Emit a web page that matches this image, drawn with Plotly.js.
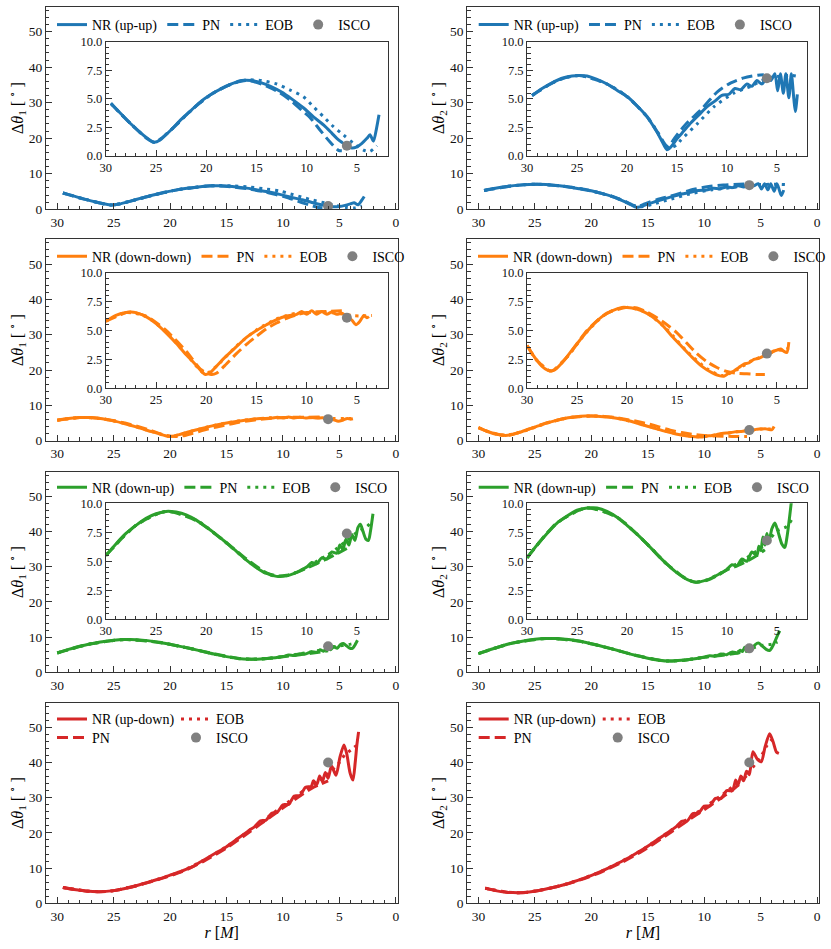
<!DOCTYPE html>
<html><head><meta charset="utf-8">
<script src="https://cdn.plot.ly/plotly-3.0.1.min.js"></script>
<style>html,body{margin:0;padding:0;background:#fff}#chart{width:831px;height:949px}</style>
</head><body><div id="chart"></div>
<script>
// ---------- DATA ----------
// Panel 1: up-up, Δθ1
const r_uu1_nr = [29.5,28.5,27.5,26.5,25.8,25.2,24.6,23.5,22.5,21.5,20.5,19.5,18.5,17.5,16.5,15.5,14.5,13.6,12.5,11.5,10.3,9.3,8.3,7.5,7.0,6.5,6.1,5.5,5.0,4.5,4.0,3.7,3.35,3.05,2.8];
const th_uu1_nr = [4.6,3.7,2.8,2.0,1.5,1.2,1.4,2.3,3.2,4.0,4.8,5.4,5.9,6.3,6.6,6.6,6.4,6.1,5.6,5.0,4.2,3.4,2.7,2.0,1.55,1.2,0.95,0.7,0.8,1.1,1.55,1.85,1.3,2.4,3.6];
const r_uu1_pn = [29.5,27.5,25.2,23.5,21.5,19.5,17.5,16.0,14.5,13.0,11.5,10.5,9.7,8.7,7.7,6.85,6.5];
const th_uu1_pn = [4.6,2.8,1.2,2.3,4.0,5.4,6.3,6.6,6.3,5.7,4.8,4.0,3.4,2.3,1.25,0.5,0.45];
const r_uu1_eob = [29.5,27.5,25.2,23.5,21.5,19.5,17.5,16.0,14.5,13.0,11.65,10.33,9.33,8.33,7.34,6.34,5.34,4.35,3.7,3.0];
const th_uu1_eob = [4.6,2.8,1.2,2.3,4.0,5.4,6.3,6.65,6.6,6.3,5.77,5.19,4.31,3.44,2.57,1.84,1.11,0.52,0.4,0.9];
// Panel 2: up-up, Δθ2
const r_uu2_nr = [29.5,28.5,27.5,26.5,25.5,24.8,24,23,22,21,20,19,18,17,16.5,16,15.6,15,14.3,13.6,12.8,12,11.2,10.5,9.8,9.2,8.6,8.0,7.5,7.0,6.5,6.0,5.6,5.2,4.92,4.65,4.35,4.1,3.8,3.55,3.3,3.15,2.95];
const th_uu2_nr = [5.3,5.9,6.4,6.8,7.0,7.05,7.0,6.7,6.3,5.75,5.2,4.4,3.45,2.1,1.3,0.55,0.8,1.5,2.2,2.9,3.6,4.3,4.8,5.3,5.4,5.9,5.8,6.3,6.1,6.6,6.3,6.8,6.6,7.2,5.7,7.2,5.5,7.2,5.1,7.2,5.0,3.9,5.4];
const r_uu2_pn = [29.5,27,24.8,22,20,18,17,16.4,15.9,15.2,14.2,12.6,10.9,9.6,8.3,6.9,6.3];
const th_uu2_pn = [5.3,6.6,7.05,6.3,5.2,3.45,2.15,1.3,0.8,1.6,2.7,4.05,5.66,6.4,6.84,7.07,7.1];
const r_uu2_eob = [29.5,27,24.8,22,20,18,17,16.3,15.7,15.0,14.6,12.9,11.25,9.26,7.6,6.5,5.5,4.5,3.5,2.8];
const th_uu2_eob = [5.3,6.6,7.05,6.3,5.2,3.45,2.2,1.1,0.7,1.0,1.4,2.88,4.34,5.52,6.1,6.6,6.9,7.0,7.05,6.95];
// Panel 3: down-down, Δθ1
const r_dd1_nr = [30,29,28,27.5,27,26,25,24,23,22,21,20.4,20.1,19.7,19,18,17,16,15,14,13,12,11,10.5,10,9.5,9,8.5,8,7.5,7,6.5,6,5.5,5.1,4.7,4.3,4.0,3.8];
const th_dd1_nr = [5.8,6.3,6.55,6.6,6.55,6.2,5.6,4.8,3.9,2.9,2.0,1.4,1.2,1.3,1.9,2.8,3.6,4.4,5.0,5.5,5.95,6.25,6.4,6.65,6.4,6.7,6.4,6.65,6.4,6.6,6.4,6.5,6.2,5.9,5.5,5.8,6.3,6.1,6.2];
const r_dd1_pn = [30,28,27.5,26,24,22,20.5,19.5,19,18,17,16,15,14,13,12,11,10,8,6.5];
const th_dd1_pn = [5.8,6.55,6.6,6.25,5.0,3.2,1.6,1.2,1.3,2.1,3.0,3.8,4.5,5.15,5.65,6.05,6.35,6.55,6.65,6.7];
const r_dd1_eob = [30,28,26,24,22,20.1,19,17,15,13,11,9,7,5.5,4.5,3.5];
const th_dd1_eob = [5.8,6.55,6.2,4.85,2.95,1.25,1.9,3.65,5.05,6.0,6.5,6.55,6.5,6.3,6.25,6.3];
// Panel 4: down-down, Δθ2
const r_dd2_nr = [30,29.5,29,28.5,28,27.6,27.2,26.5,25.5,24.5,23.5,22.5,21.5,20.5,20,19.5,18.5,17.5,16.5,15.5,14.5,13.5,12.5,11.5,10.8,10.3,9.8,9.3,8.8,8.3,7.8,7.3,6.8,6.3,5.8,5.4,5.0,4.6,4.3,4.0,3.8];
const th_dd2_nr = [3.7,3.0,2.4,1.9,1.6,1.5,1.6,2.2,3.3,4.4,5.4,6.2,6.7,7.0,7.0,6.95,6.7,6.2,5.5,4.5,3.6,2.7,1.9,1.35,1.1,1.05,1.3,1.5,1.8,2.1,2.2,2.5,2.6,2.8,2.9,3.2,3.3,3.4,3.2,3.1,4.0];
const r_dd2_pn = [30,29,27.6,26,24,22,20,19,18,17,16,15,14,13,12,11,10,9,8,7,6.2];
const th_dd2_pn = [3.7,2.4,1.5,2.7,5.0,6.5,7.0,6.95,6.6,6.1,5.5,4.8,3.9,3.0,2.3,1.8,1.45,1.3,1.25,1.2,1.2];
const r_dd2_eob = [30,29,27.6,26,24,22,20,18,16,14,12,10.5,9,7.5,6,5,4.3,3.8];
const th_dd2_eob = [3.7,2.4,1.5,2.7,4.9,6.5,7.0,6.5,5.1,3.2,1.7,1.1,1.6,2.4,2.9,3.3,3.3,3.5];
// Panel 5: down-up, Δθ1
const r_du1_nr = [30,29,28,27,26,25,24,23.5,23,22,21,20,19,18,17,16,15,14,13,12,11,10,9.5,9,8.5,8,7.5,7.0,6.7,6.4,6.1,5.8,5.5,5.2,4.9,4.65,4.4,4.1,3.85,3.65,3.4];
const th_du1_nr = [5.5,6.5,7.4,8.1,8.7,9.1,9.3,9.3,9.25,9.0,8.55,7.95,7.3,6.6,5.85,5.1,4.45,3.95,3.7,3.75,4.05,4.5,4.9,4.8,5.3,5.2,5.8,5.7,6.4,6.0,6.9,6.4,7.3,6.8,7.9,8.2,7.6,6.9,6.8,7.6,9.1];
const r_du1_pn = [30,27,24,21,18,16,14,13,12,11,10,9,8,7,6];
const th_du1_pn = [5.5,8.1,9.3,8.5,6.6,5.2,4.0,3.75,3.8,4.05,4.4,4.8,5.2,5.65,6.1];
const r_du1_eob = [30,27,24,21,18,16,14,13,12,11,10,9,8,7,6,5,4,3.5];
const th_du1_eob = [5.5,8.1,9.3,8.55,6.6,5.1,3.95,3.7,3.75,4.05,4.5,5.0,5.5,6.1,6.8,7.5,8.0,8.4];
// Panel 6: down-up, Δθ2
const r_du2_nr = [30,29,28,27,26,25,24,23.4,23,22,21,20,19,18,17,16,15,14,13.1,12,11,10,9.5,9,8.5,8,7.5,7,6.8,6.6,6.4,6.2,6.0,5.8,5.5,5.2,4.9,4.5,4.2,4.0,3.7,3.5,3.3];
const th_du2_nr = [5.3,6.4,7.4,8.3,8.9,9.4,9.6,9.62,9.6,9.3,8.8,8.1,7.35,6.5,5.6,4.75,4.0,3.45,3.2,3.4,3.8,4.3,4.7,4.6,5.2,5.0,5.8,5.5,6.3,5.9,7.1,6.4,7.4,6.7,7.8,8.3,7.6,6.5,6.2,7.0,9.0,10.5,11.8];
const r_du2_pn = [30,27,24,21,18,16,14,13.1,12,11,10,9,8,7,6.2];
const th_du2_pn = [5.3,8.3,9.6,8.8,6.5,4.75,3.45,3.2,3.35,3.75,4.25,4.6,5.0,5.5,6.0];
const r_du2_eob = [30,27,24,21,18,16,14,13.1,12,11,10,9,8,7,6,5,4,3.5];
const th_du2_eob = [5.3,8.3,9.6,8.8,6.5,4.75,3.45,3.2,3.4,3.8,4.3,4.8,5.3,5.9,6.6,7.6,8.0,8.6];
// Panel 7: up-down, Δθ1
const r_ud1_nr = [29.5,28.5,27.5,26.3,25,24,23,22,21,20,19,18,17.5,17,16,15,14,13,12.5,12,11.5,11,10.5,10,9.5,9,8.5,8,7.5,7.3,7.0,6.75,6.5,6.25,6.0,5.7,5.3,4.95,4.6,4.35,4.05,3.8,3.6,3.45,3.3];
const th_ud1_nr = [4.5,3.9,3.5,3.3,3.6,4.2,5.0,5.9,6.9,8.0,9.1,10.4,11.4,12.3,14.2,16.1,18.4,20.7,21.8,23.4,23.6,25.6,25.9,28.0,28.1,30.5,30.6,33.0,33.2,34.8,33.8,36.2,34.6,37.2,35.5,39.0,36.4,41.5,45.0,42.5,37.0,35.0,40.0,45.0,48.7];
const r_ud1_pn = [29.5,27.5,26.3,25,23,21,19,17,15,13,11,9,7.5,6.7,6.0];
const th_ud1_pn = [4.5,3.5,3.3,3.6,5.0,6.8,8.9,12.0,15.7,20.2,24.8,29.4,32.6,33.8,34.8];
const r_ud1_eob = [29.5,27.5,26.3,25,23,21,19,17,15,13,11,9,8,7,6,5,4.5,4,3.5];
const th_ud1_eob = [4.5,3.5,3.3,3.6,5.0,6.9,9.1,12.3,16.1,20.7,25.3,30.0,32.4,34.5,36.8,40.0,42.3,43.5,44.8];
// Panel 8: up-down, Δθ2
const r_ud2_nr = [29.4,28.5,27.5,26.4,25.5,24.5,23.5,22.5,21.5,20.5,19.5,18.5,17.5,16.5,15.5,14.5,13.5,12.5,12,11.5,11,10.5,10,9.5,9,8.5,8,7.5,7.2,7.0,6.75,6.5,6.25,6.0,5.68,5.3,4.94,4.6,4.2,3.9,3.6,3.38];
const th_ud2_nr = [4.3,3.6,3.15,3.0,3.2,3.7,4.4,5.2,6.2,7.3,8.6,10.0,11.6,13.3,15.2,17.3,19.5,21.7,23.3,23.4,25.5,25.6,27.6,27.7,29.8,29.8,32.0,32.0,35.0,33.6,36.2,34.8,37.5,36.5,43.1,41.0,40.2,44.5,48.2,46.0,43.0,42.6];
const r_ud2_pn = [29.4,27.5,26.4,25.5,23.5,21.5,19.5,17.5,15.5,13.5,11.5,10,8,7,6.25];
const th_ud2_pn = [4.3,3.15,3.0,3.2,4.4,6.1,8.4,11.3,14.8,19.0,23.4,26.6,31.0,33.5,36.2];
const r_ud2_eob = [29.4,27.5,26.4,25.5,23.5,21.5,19.5,17.5,15.5,13.5,11.5,10,8,7,6,5,4.5,4,3.7];
const th_ud2_eob = [4.3,3.15,3.0,3.2,4.4,6.2,8.6,11.6,15.2,19.5,23.9,27.2,31.8,34.5,37.5,41.5,44.5,46.5,47.0];
// ISCO markers (one per panel)
const isco_r = [6,6,6,6,6,6,6,6];
const isco_th = [0.9,6.8,6.1,3.0,7.4,6.8,40,40];
// Labels
const nr_labels = ['NR (up-up)','NR (up-up)','NR (down-down)','NR (down-down)','NR (down-up)','NR (down-up)','NR (up-down)','NR (up-down)'];
const series_labels = ['PN','EOB','ISCO'];
const panel_colors = ['#1f77b4','#1f77b4','#ff7f0e','#ff7f0e','#2ca02c','#2ca02c','#d62728','#d62728'];

// ---------- FIGURE ----------
const W = 831, H = 949;
const FONT = 'Liberation Serif, DejaVu Serif, serif';
const panels = [
  [r_uu1_nr,th_uu1_nr,r_uu1_pn,th_uu1_pn,r_uu1_eob,th_uu1_eob],
  [r_uu2_nr,th_uu2_nr,r_uu2_pn,th_uu2_pn,r_uu2_eob,th_uu2_eob],
  [r_dd1_nr,th_dd1_nr,r_dd1_pn,th_dd1_pn,r_dd1_eob,th_dd1_eob],
  [r_dd2_nr,th_dd2_nr,r_dd2_pn,th_dd2_pn,r_dd2_eob,th_dd2_eob],
  [r_du1_nr,th_du1_nr,r_du1_pn,th_du1_pn,r_du1_eob,th_du1_eob],
  [r_du2_nr,th_du2_nr,r_du2_pn,th_du2_pn,r_du2_eob,th_du2_eob],
  [r_ud1_nr,th_ud1_nr,r_ud1_pn,th_ud1_pn,r_ud1_eob,th_ud1_eob],
  [r_ud2_nr,th_ud2_nr,r_ud2_pn,th_ud2_pn,r_ud2_eob,th_ud2_eob]
];
const colPx = [[46,398],[467.7,819.7]];
const rowPx = [[6.7,209.3],[239.3,440.7],[471.7,672.3],[702.7,903.3]];
const insetColPx = [[106,388],[527.7,808.3]];
const insetRowPx = [[41.7,156],[272.7,388.3],[503.3,619.3]];
const px2x = p => p / W;
const px2y = p => 1 - p / H;

const traces = [];
const layout = {
  width: W, height: H,
  margin: {l:0, r:0, t:0, b:0},
  paper_bgcolor: '#fff', plot_bgcolor: 'rgba(0,0,0,0)',
  font: {family: FONT, size: 13, color: '#000'},
  showlegend: true
};

function axisCommon(extra) {
  return Object.assign({
    showgrid: false, zeroline: false, showline: true, mirror: true,
    linecolor: '#333', linewidth: 1,
    ticks: 'inside', ticklen: 6, tickwidth: 1, tickcolor: '#333',
    tickfont: {family: FONT, size: 13.5, color: '#111'}
  }, extra);
}

const dashPN = '11px,5px', dashEOB = '3px,5px';

function addSeries(p, xa, ya, legendIds, show) {
  const d = panels[p], c = panel_colors[p];
  const base = {type: 'scatter', mode: 'lines', xaxis: xa, yaxis: ya, hoverinfo: 'skip'};
  traces.push(Object.assign({}, base, {x: d[0], y: d[1], name: nr_labels[p], line: {color: c, width: 3, shape: 'spline', smoothing: 0.7}, showlegend: show, legend: legendIds[0]}));
  traces.push(Object.assign({}, base, {x: d[2], y: d[3], name: series_labels[0], line: {color: c, width: 3, dash: dashPN, shape: 'spline', smoothing: 0.7}, showlegend: show, legend: legendIds[1]}));
  traces.push(Object.assign({}, base, {x: d[4], y: d[5], name: series_labels[1], line: {color: c, width: 3, dash: dashEOB, shape: 'spline', smoothing: 0.7}, showlegend: show, legend: legendIds[2]}));
  traces.push({type: 'scatter', mode: 'markers', xaxis: xa, yaxis: ya, hoverinfo: 'skip', x: [isco_r[p]], y: [isco_th[p]], name: series_labels[2], marker: {color: 'grey', size: 10}, showlegend: show, legend: legendIds[3]});
}

const legFont = {family: FONT, size: 14, color: '#000'};
let legendCount = 0;
function newLegend(cfg) {
  legendCount++;
  const id = legendCount === 1 ? 'legend' : 'legend' + legendCount;
  layout[id] = Object.assign({bgcolor: 'rgba(0,0,0,0)', borderwidth: 0, font: legFont, itemwidth: 30, traceorder: 'normal', tracegroupgap: 0}, cfg);
  return id;
}

for (let p = 0; p < 8; p++) {
  const row = Math.floor(p / 2), col = p % 2;
  const idx = p + 1;
  const xa = 'x' + (idx === 1 ? '' : idx), ya = 'y' + (idx === 1 ? '' : idx);
  const xk = 'xaxis' + (idx === 1 ? '' : idx), yk = 'yaxis' + (idx === 1 ? '' : idx);
  const xcfg = {
    domain: [px2x(colPx[col][0]), px2x(colPx[col][1])], anchor: ya,
    range: [31, -0.15], tick0: 0, dtick: 5,
    minor: {dtick: 1, ticklen: 3.5, ticks: 'inside', tickcolor: '#333', showgrid: false}
  };
  if (row === 3) xcfg.title = {text: '<i>r</i> [<i>M</i>]', font: {family: FONT, size: 16}, standoff: 4};
  layout[xk] = axisCommon(xcfg);
  layout[yk] = axisCommon({
    domain: [px2y(rowPx[row][1]), px2y(rowPx[row][0])], anchor: xa,
    range: [0, 57], tick0: 0, dtick: 10,
    minor: {dtick: 2, ticklen: 3.5, ticks: 'inside', tickcolor: '#333', showgrid: false},
    title: {text: 'Δ<i>θ</i><sub>' + (col + 1) + '</sub> [ <sup>∘</sup> ]', font: {family: FONT, size: 16}, standoff: 1}
  });
  let legIds;
  const lx0 = colPx[col][0] + 6;
  if (row < 3) {
    const yMid = [25, 256.7, 487.7][row];
    const id = newLegend({orientation: 'h', x: px2x(lx0), y: px2y(yMid), xanchor: 'left', yanchor: 'middle'});
    legIds = [id, id, id, id];
  } else {
    const lxB = colPx[col][0] + 130;
    const idNR = newLegend({orientation: 'v', x: px2x(lx0), y: px2y(719.3), xanchor: 'left', yanchor: 'middle'});
    const idPN = newLegend({orientation: 'v', x: px2x(lx0), y: px2y(738), xanchor: 'left', yanchor: 'middle'});
    const idEOB = newLegend({orientation: 'v', x: px2x(lxB), y: px2y(719.3), xanchor: 'left', yanchor: 'middle'});
    const idISCO = newLegend({orientation: 'v', x: px2x(lxB), y: px2y(738), xanchor: 'left', yanchor: 'middle'});
    legIds = [idNR, idPN, idEOB, idISCO];
  }
  addSeries(p, xa, ya, legIds, true);
}

// insets
for (let p = 0; p < 6; p++) {
  const row = Math.floor(p / 2), col = p % 2;
  const idx = 9 + p;
  const xa = 'x' + idx, ya = 'y' + idx;
  layout['xaxis' + idx] = axisCommon({
    domain: [px2x(insetColPx[col][0]), px2x(insetColPx[col][1])], anchor: ya,
    range: [30, 1.95], tick0: 0, dtick: 5,
    minor: {dtick: 1, ticklen: 3.5, ticks: 'inside', tickcolor: '#333', showgrid: false},
    tickfont: {family: FONT, size: 12.5, color: '#111'}
  });
  layout['yaxis' + idx] = axisCommon({
    domain: [px2y(insetRowPx[row][1]), px2y(insetRowPx[row][0])], anchor: xa,
    range: [0, 10], tick0: 0, dtick: 2.5, tickformat: '.1f',
    minor: {dtick: 0.5, ticklen: 3.5, ticks: 'inside', tickcolor: '#333', showgrid: false},
    tickfont: {family: FONT, size: 12.5, color: '#111'}
  });
  addSeries(p, xa, ya, ['legend','legend','legend','legend'], false);
}

Plotly.newPlot('chart', traces, layout, {displayModeBar: false, staticPlot: true});
</script>
</body></html>
